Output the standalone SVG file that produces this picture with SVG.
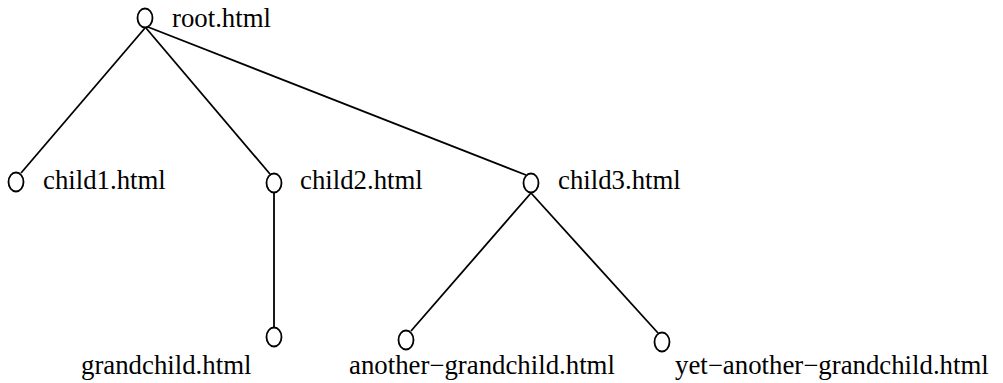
<svg xmlns="http://www.w3.org/2000/svg" width="1003" height="383" viewBox="0 0 1003 383">
<style>
.n{fill:#fff;stroke:#000;stroke-width:1.8}
.e{stroke:#000;stroke-width:1.8;fill:none}
text{font-family:"Liberation Serif","Times New Roman",serif;font-size:26.8px;fill:#000}
</style>
<rect width="1003" height="383" fill="#fff"/>
<g id="edges">
<line class="e" x1="145" y1="28" x2="21" y2="173"/>
<line class="e" x1="146" y1="28" x2="270" y2="174"/>
<line class="e" x1="148" y1="27" x2="526" y2="175"/>
<line class="e" x1="274" y1="193" x2="274" y2="327"/>
<line class="e" x1="531" y1="193" x2="411" y2="331"/>
<line class="e" x1="531" y1="193" x2="658" y2="333"/>
</g>
<g id="root"><ellipse class="n" cx="145" cy="18" rx="7.5" ry="9.5"/><text x="172" y="27">root.html</text></g>
<g id="child1"><ellipse class="n" cx="16" cy="182" rx="7.5" ry="9.5"/><text x="43" y="189">child1.html</text></g>
<g id="child2"><ellipse class="n" cx="274" cy="183" rx="7.5" ry="9.5"/><text x="300" y="189">child2.html</text></g>
<g id="child3"><ellipse class="n" cx="531" cy="183" rx="7.5" ry="9.5"/><text x="558" y="189">child3.html</text></g>
<g id="grandchild"><ellipse class="n" cx="274" cy="337" rx="7.5" ry="9.5"/><text x="81" y="374">grandchild.html</text></g>
<g id="another-grandchild"><ellipse class="n" cx="406" cy="340" rx="7.5" ry="9.5"/><text x="349" y="374">another−grandchild.html</text></g>
<g id="yet-another-grandchild"><ellipse class="n" cx="662" cy="342" rx="7.5" ry="9.5"/><text x="675" y="374">yet−another−grandchild.html</text></g>
</svg>
